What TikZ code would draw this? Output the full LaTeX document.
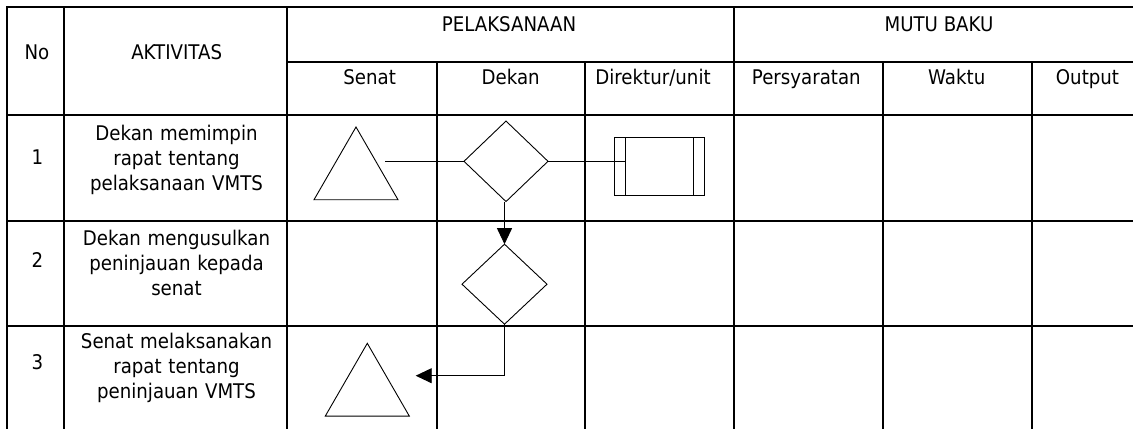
\documentclass[tikz,border=0pt]{standalone}
\usepackage{fontspec}
\setmainfont{DejaVu Sans}[FakeStretch=0.9]
\usetikzlibrary{shapes.geometric,arrows.meta}
\begin{document}
\begin{tikzpicture}[x=1bp,y=-1bp,
  grid/.style={line width=2bp, line cap=rect},
  shp/.style={draw, line width=0.9bp, inner sep=0pt, outer sep=0pt},
  con/.style={line width=0.9bp},
  tip/.style={-{Triangle[length=16bp,width=15bp]}},
  txt/.style={font=\fontsize{20.2bp}{25bp}\selectfont, inner sep=0pt, anchor=base},
  cell/.style={txt, align=center, text width=220bp},
  tri/.style={shp, regular polygon, regular polygon sides=3, minimum size=97bp},
  dia/.style={shp, diamond, minimum width=84bp, minimum height=80.5bp},
  proc/.style={shp, rectangle, minimum width=90bp, minimum height=57.3bp,
    path picture={
      \draw[line width=0.9bp] ([xshift=11.4bp]path picture bounding box.north west) -- ([xshift=11.4bp]path picture bounding box.south west);
      \draw[line width=0.9bp] ([xshift=-11bp]path picture bounding box.north east) -- ([xshift=-11bp]path picture bounding box.south east);}}]
\useasboundingbox (0,0) rectangle (1133,428);
% table grid
\draw[grid] (7,7) -- (1140,7);
\draw[grid] (287,62) -- (1140,62);
\draw[grid] (7,115) -- (1140,115);
\draw[grid] (7,221) -- (1140,221);
\draw[grid] (7,326) -- (1140,326);
\draw[grid] (7,7) -- (7,435);
\draw[grid] (64,7) -- (64,435);
\draw[grid] (287,7) -- (287,435);
\draw[grid] (734,7) -- (734,435);
\draw[grid] (437,62) -- (437,435);
\draw[grid] (585,62) -- (585,435);
\draw[grid] (883,62) -- (883,435);
\draw[grid] (1032,62) -- (1032,435);
% headers
\node[txt] (hno) at (37,59.5) {No};
\node[txt] (hakt) at (176.7,59.5) {AKTIVITAS};
\node[txt] (hpel) at (509,31.7) {PELAKSANAAN};
\node[txt] (hmb) at (939,31.7) {MUTU BAKU};
\node[txt] (hsen) at (369.7,84) {Senat};
\node[txt] (hdek) at (510.7,84) {Dekan};
\node[txt] (hdir) at (653,84) {Direktur/unit};
\node[txt] (hper) at (806.3,84) {Persyaratan};
\node[txt] (hwak) at (956.7,84) {Waktu};
\node[txt] (hout) at (1087.5,84) {Output};
% rows
\node[txt] (n1) at (37.5,164) {1};
\node[txt] (n2) at (37.5,267.7) {2};
\node[txt] (n3) at (37.5,369.3) {3};
\node[cell] (a1) at (176.5,140) {Dekan memimpin\\rapat tentang\\pelaksanaan VMTS};
\node[cell] (a2) at (176.5,245) {Dekan mengusulkan\\peninjauan kepada\\senat};
\node[cell] (a3) at (176.5,348) {Senat melaksanakan\\rapat tentang\\peninjauan VMTS};
% flow shapes
\node[tri] (t1) at (356,175.5) {};
\node[dia] (d1) at (506,161.3) {};
\node[proc] (b1) at (659.3,166.3) {};
\node[dia, minimum width=85bp, minimum height=80bp] (d2) at (504.5,284.2) {};
\node[tri] (t3) at (367.3,391.8) {};
\coordinate (s1) at (385.3,161.3);
\coordinate (e3) at (415.7,375.7);
% connectors
\draw[con] (s1) -- (d1.west);
\draw[con] (d1.east) -- ([xshift=11.4bp]b1.west |- d1.east);
\draw[con,tip] (d1.south -| d2.north) -- (d2.north);
\draw[con,tip] (d2.south) |- (e3);
\end{tikzpicture}
\end{document}
